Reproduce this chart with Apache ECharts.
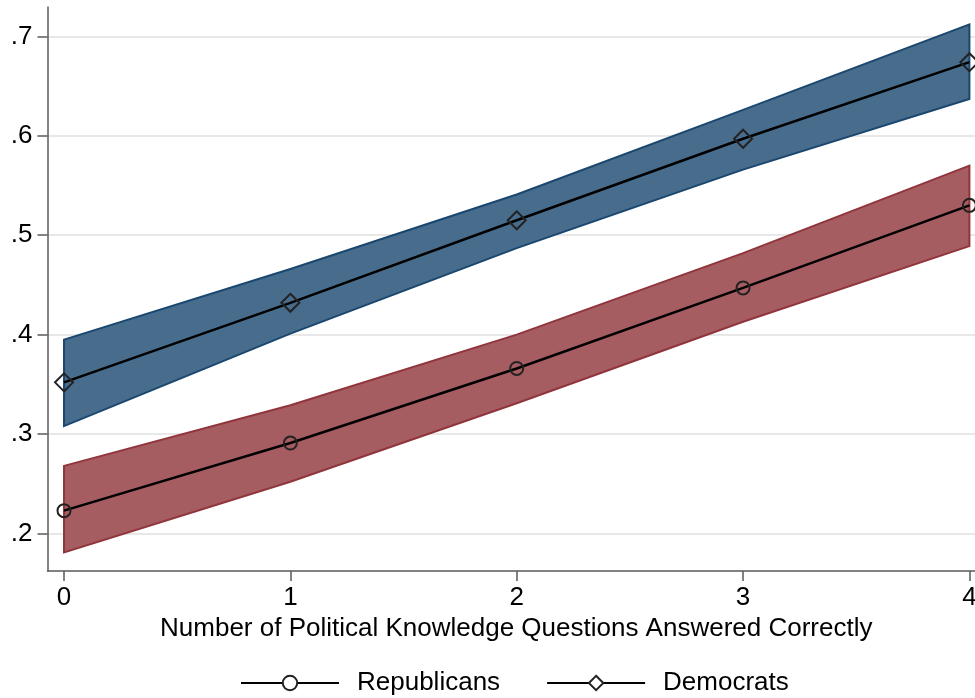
<!DOCTYPE html>
<html>
<head>
<meta charset="utf-8">
<title>Political knowledge and correct answers by party</title>
<script src="https://cdn.jsdelivr.net/npm/echarts@6/dist/echarts.min.js"></script>
<style>
  html, body { margin: 0; padding: 0; background: #fff; }
  #chart { width: 975px; height: 698px; }
</style>
</head>
<body>
<div id="chart"></div>
<script>
// Number of political knowledge questions answered correctly
const knowledge = [0, 1, 2, 3, 4];

// Predicted values with confidence bands
const demMean  = [0.352, 0.432, 0.515, 0.597, 0.674];
const demUpper = [0.395, 0.466, 0.541, 0.626, 0.712];
const demLower = [0.308, 0.401, 0.487, 0.566, 0.637];

const repMean  = [0.223, 0.291, 0.366, 0.447, 0.530];
const repUpper = [0.268, 0.329, 0.400, 0.482, 0.570];
const repLower = [0.181, 0.252, 0.331, 0.413, 0.489];

// Axis ticks
const yTickValues = [0.2, 0.3, 0.4, 0.5, 0.6, 0.7];
const yTickLabels = ['.2', '.3', '.4', '.5', '.6', '.7'];
const xTickValues = [0, 1, 2, 3, 4];
const xTickLabels = ['0', '1', '2', '3', '4'];

const FONT = 'Liberation Sans';
const FS = 26;

function bandSeries(name, upper, lower, fill, stroke) {
  return {
    name: name,
    type: 'custom',
    silent: true,
    z: 1,
    data: [[0]],
    renderItem: function (params, api) {
      const pts = [];
      for (let i = 0; i < knowledge.length; i++) pts.push(api.coord([knowledge[i], upper[i]]));
      for (let i = knowledge.length - 1; i >= 0; i--) pts.push(api.coord([knowledge[i], lower[i]]));
      return {
        type: 'polygon',
        shape: { points: pts },
        style: { fill: fill, stroke: stroke, lineWidth: 2, lineJoin: 'miter' }
      };
    }
  };
}

function pairs(ys) {
  return knowledge.map((x, i) => [x, ys[i]]);
}

const chart = echarts.init(document.getElementById('chart'), null, { renderer: 'canvas' });

chart.setOption({
  animation: false,
  backgroundColor: '#ffffff',
  textStyle: { fontFamily: FONT },
  grid: { left: 47.5, right: 0, top: 7, bottom: 127, containLabel: false, outerBoundsMode: 'none' },
  xAxis: {
    type: 'value',
    min: -0.073,
    max: 4.0247,
    name: 'Number of Political Knowledge Questions Answered Correctly',
    nameLocation: 'middle',
    nameGap: 39,
    nameTextStyle: { fontFamily: FONT, fontSize: FS, color: '#000', padding: [0, 0, 0, 10] },
    axisLine: { show: true, onZero: false, lineStyle: { color: '#5a5a5a', width: 1.5 } },
    axisTick: { show: true, length: 10, customValues: xTickValues, lineStyle: { color: '#5a5a5a', width: 1.5 } },
    axisLabel: {
      customValues: xTickValues,
      margin: 14,
      hideOverlap: false,
      fontFamily: FONT, fontSize: FS, color: '#000',
      formatter: v => xTickLabels[xTickValues.indexOf(v)]
    },
    splitLine: { show: false }
  },
  yAxis: {
    type: 'value',
    min: 0.1623,
    max: 0.7295,
    axisLine: { show: true, onZero: false, lineStyle: { color: '#5a5a5a', width: 1.5 } },
    axisTick: { show: true, length: 10, customValues: yTickValues, lineStyle: { color: '#5a5a5a', width: 1.5 } },
    axisLabel: {
      customValues: yTickValues,
      margin: 15,
      fontFamily: FONT, fontSize: FS, color: '#000',
      formatter: v => yTickLabels[yTickValues.findIndex(t => Math.abs(t - v) < 1e-6)]
    },
    splitLine: { show: true, lineStyle: { color: '#e8e8e8', width: 2 } }
  },
  legend: {
    left: 240,
    top: 670,
    padding: 0,
    itemWidth: 98,
    itemHeight: 18,
    itemGap: 46,
    data: ['Republicans', 'Democrats'],
    itemStyle: { color: '#ffffff', borderColor: '#222222', borderWidth: 2 },
    textStyle: { fontFamily: FONT, fontSize: FS, color: '#000', padding: [0, 0, 0, 13] }
  },
  series: [
    bandSeries('Democrats band', demUpper, demLower, '#486c8c', '#1a476f'),
    bandSeries('Republicans band', repUpper, repLower, '#a65d62', '#90353b'),
    {
      name: 'Republicans',
      type: 'line',
      z: 3,
      data: pairs(repMean),
      symbol: 'circle',
      symbolSize: 13,
      showSymbol: true,
      clip: false,
      lineStyle: { color: '#000', width: 2.5 },
      itemStyle: { color: 'rgba(0,0,0,0)', borderColor: '#222222', borderWidth: 2 }
    },
    {
      name: 'Democrats',
      type: 'line',
      z: 3,
      data: pairs(demMean),
      symbol: 'diamond',
      symbolSize: 18,
      showSymbol: true,
      clip: false,
      lineStyle: { color: '#000', width: 2.5 },
      itemStyle: { color: 'rgba(0,0,0,0)', borderColor: '#222222', borderWidth: 2 }
    }
  ]
});
</script>
</body>
</html>
